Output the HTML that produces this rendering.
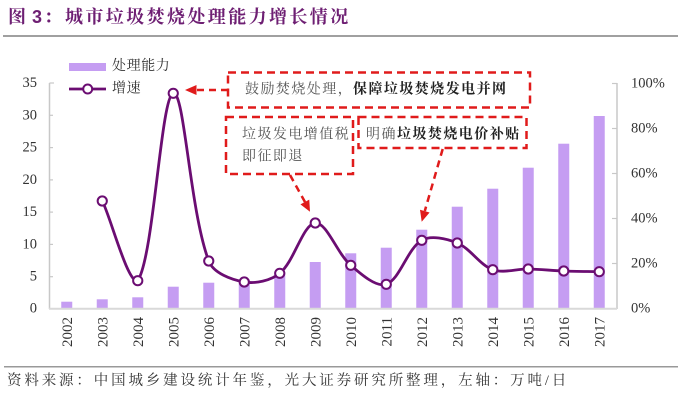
<!DOCTYPE html>
<html><head><meta charset="utf-8"><style>
html,body{margin:0;padding:0;background:#fff;}
svg{display:block;}
.cn{font-family:"Liberation Serif","Noto Serif CJK SC",serif;}
.num{font-family:"Liberation Serif",serif;}
</style></head><body>
<svg width="680" height="401" viewBox="0 0 680 401" xmlns="http://www.w3.org/2000/svg">
<rect width="680" height="401" fill="#fff"/>
<!-- title -->
<text x="8" y="17" dominant-baseline="central" class="cn" font-size="18" font-weight="bold" fill="#6e1f73">图</text>
<text x="32" y="17" dominant-baseline="central" font-family="Liberation Sans, sans-serif" font-size="18" font-weight="bold" fill="#6e1f73">3</text>
<text x="44" y="17" dominant-baseline="central" class="cn" font-size="18" font-weight="bold" fill="#6e1f73">：</text>
<text x="65" y="17" dominant-baseline="central" class="cn" font-size="18" font-weight="bold" fill="#6e1f73" letter-spacing="2.4">城市垃圾焚烧处理能力增长情况</text>
<line x1="3" y1="36" x2="678" y2="36" stroke="#808080" stroke-width="1.5"/>

<!-- axes -->
<line x1="49.5" y1="83" x2="49.5" y2="309" stroke="#c8c8c8" stroke-width="1.5"/>
<g stroke="#c8c8c8" stroke-width="1.2">
<line x1="49.5" y1="83" x2="54" y2="83"/>
<line x1="49.5" y1="115.3" x2="53" y2="115.3"/>
<line x1="49.5" y1="147.6" x2="53" y2="147.6"/>
<line x1="49.5" y1="179.9" x2="53" y2="179.9"/>
<line x1="49.5" y1="212.1" x2="53" y2="212.1"/>
<line x1="49.5" y1="244.4" x2="53" y2="244.4"/>
<line x1="49.5" y1="276.7" x2="53" y2="276.7"/>
</g>
<line x1="617" y1="83" x2="617" y2="309" stroke="#c8c8c8" stroke-width="1.5"/>
<g stroke="#c8c8c8" stroke-width="1.2">
<line x1="612" y1="83.5" x2="617" y2="83.5"/>
<line x1="612" y1="128.5" x2="617" y2="128.5"/>
<line x1="612" y1="173.5" x2="617" y2="173.5"/>
<line x1="612" y1="218.5" x2="617" y2="218.5"/>
<line x1="612" y1="263.5" x2="617" y2="263.5"/>
</g>

<!-- left labels -->
<g class="num" font-size="14.5" fill="#333" text-anchor="end" dominant-baseline="central">
<text x="37" y="83">35</text>
<text x="37" y="115.3">30</text>
<text x="37" y="147.6">25</text>
<text x="37" y="179.9">20</text>
<text x="37" y="212.1">15</text>
<text x="37" y="244.4">10</text>
<text x="37" y="276.7">5</text>
<text x="37" y="308.5">0</text>
</g>
<!-- right labels -->
<g class="num" font-size="14.5" fill="#333" dominant-baseline="central">
<text x="631" y="83.5">100%</text>
<text x="631" y="128.5">80%</text>
<text x="631" y="173.5">60%</text>
<text x="631" y="218.5">40%</text>
<text x="631" y="263.5">20%</text>
<text x="631" y="308.5">0%</text>
</g>

<!-- bars -->
<g fill="#c59df2">
<rect x="61.25" y="301.7" width="11" height="6.8"/>
<rect x="96.75" y="299.3" width="11" height="9.2"/>
<rect x="132.25" y="297.3" width="11" height="11.2"/>
<rect x="167.75" y="286.7" width="11" height="21.8"/>
<rect x="203.25" y="282.7" width="11" height="25.8"/>
<rect x="238.75" y="279.5" width="11" height="29"/>
<rect x="274.25" y="272" width="11" height="36.5"/>
<rect x="309.75" y="262" width="11" height="46.5"/>
<rect x="345.25" y="253.3" width="11" height="55.2"/>
<rect x="380.75" y="247.7" width="11" height="60.8"/>
<rect x="416.25" y="229.7" width="11" height="78.8"/>
<rect x="451.75" y="206.7" width="11" height="101.8"/>
<rect x="487.25" y="188.7" width="11" height="119.8"/>
<rect x="522.75" y="167.7" width="11" height="140.8"/>
<rect x="558.25" y="143.7" width="11" height="164.8"/>
<rect x="593.75" y="116" width="11" height="192.5"/>
</g>
<line x1="49" y1="308.8" x2="617" y2="308.8" stroke="#d9d9d9" stroke-width="2"/>

<!-- year labels -->
<g class="num" font-size="15" fill="#333" text-anchor="end">
<text transform="translate(71.75,317) rotate(-90)">2002</text>
<text transform="translate(107.25,317) rotate(-90)">2003</text>
<text transform="translate(142.75,317) rotate(-90)">2004</text>
<text transform="translate(178.25,317) rotate(-90)">2005</text>
<text transform="translate(213.75,317) rotate(-90)">2006</text>
<text transform="translate(249.25,317) rotate(-90)">2007</text>
<text transform="translate(284.75,317) rotate(-90)">2008</text>
<text transform="translate(320.25,317) rotate(-90)">2009</text>
<text transform="translate(355.75,317) rotate(-90)">2010</text>
<text transform="translate(391.25,317) rotate(-90)">2011</text>
<text transform="translate(426.75,317) rotate(-90)">2012</text>
<text transform="translate(462.25,317) rotate(-90)">2013</text>
<text transform="translate(497.75,317) rotate(-90)">2014</text>
<text transform="translate(533.25,317) rotate(-90)">2015</text>
<text transform="translate(568.75,317) rotate(-90)">2016</text>
<text transform="translate(604.25,317) rotate(-90)">2017</text>
</g>

<!-- growth line -->
<path fill="none" stroke="#6b0d72" stroke-width="2.8" stroke-linejoin="round" d="M102.25,201 C110,215 128,285 137.75,280.7 C153.99,256.07 160.79,96.76 173.25,93.3 C184.45,90.19 189.67,210.30 208.75,261 C213.34,273.20 231.70,279.83 244.25,282 C255.37,283.93 270.93,280.63 279.75,273.3 C294.60,260.96 302.77,224.41 315.25,223 C326.44,221.74 337.06,253.48 350.75,265.3 C360.73,273.92 376.41,287.77 386.25,284.3 C400.07,279.43 407.23,248.75 421.75,240.3 C430.89,234.98 446.72,238.64 457.25,243 C470.39,248.44 479.60,264.88 492.75,269.7 C503.27,273.55 516.42,268.78 528.25,269 C540.08,269.22 551.92,270.55 563.75,271 C575.58,271.45 587.42,271.47 599.25,271.7"/>
<g fill="#fff" stroke="#6b0d72" stroke-width="2">
<circle cx="102.25" cy="201" r="4.6"/>
<circle cx="137.75" cy="280.7" r="4.6"/>
<circle cx="173.25" cy="93.3" r="4.6"/>
<circle cx="208.75" cy="261" r="4.6"/>
<circle cx="244.25" cy="282" r="4.6"/>
<circle cx="279.75" cy="273.3" r="4.6"/>
<circle cx="315.25" cy="223" r="4.6"/>
<circle cx="350.75" cy="265.3" r="4.6"/>
<circle cx="386.25" cy="284.3" r="4.6"/>
<circle cx="421.75" cy="240.3" r="4.6"/>
<circle cx="457.25" cy="243" r="4.6"/>
<circle cx="492.75" cy="269.7" r="4.6"/>
<circle cx="528.25" cy="269" r="4.6"/>
<circle cx="563.75" cy="271" r="4.6"/>
<circle cx="599.25" cy="271.7" r="4.6"/>
</g>

<!-- legend -->
<rect x="69" y="63" width="37" height="8" fill="#c59df2"/>
<text x="112" y="66.7" dominant-baseline="central" class="cn" font-size="14" fill="#333" letter-spacing="0.6">处理能力</text>
<line x1="69" y1="89" x2="106" y2="89" stroke="#6b0d72" stroke-width="2.8"/>
<circle cx="87.7" cy="89" r="4.5" fill="#fff" stroke="#6b0d72" stroke-width="2"/>
<text x="112" y="89" dominant-baseline="central" class="cn" font-size="14" fill="#333" letter-spacing="0.6">增速</text>

<!-- annotation boxes -->
<g fill="none" stroke="#e01b1b" stroke-width="2.5" stroke-dasharray="8 5">
<rect x="228" y="72.5" width="302" height="35"/>
<rect x="226" y="117" width="127" height="57"/>
<rect x="358.5" y="117" width="168" height="31"/>
<line x1="228" y1="90" x2="196" y2="90" stroke-dasharray="7 5"/>
<line x1="290" y1="175" x2="305" y2="202" stroke-dasharray="7 5"/>
<line x1="442.7" y1="149" x2="424.8" y2="211" stroke-dasharray="7 5"/>
</g>
<g fill="#e01b1b">
<polygon points="185,90 196.5,85 196.5,95"/>
<polygon points="310,211.7 309.26,199.66 300.44,204.34"/>
<polygon points="421.7,221.7 429.59,212.55 419.99,209.74"/>
</g>
<g class="cn" font-size="14" dominant-baseline="central" letter-spacing="1.45">
<text x="245" y="90" fill="#555">鼓励焚烧处理，</text>
<text x="353" y="90" fill="#222" font-weight="bold">保障垃圾焚烧发电并网</text>
<text x="242" y="135" fill="#555">垃圾发电增值税</text>
<text x="242" y="157" fill="#555">即征即退</text>
<text x="366" y="135" fill="#555">明确</text>
<text x="397" y="135" fill="#222" font-weight="bold">垃圾焚烧电价补贴</text>
</g>

<!-- source -->
<line x1="4" y1="366.7" x2="678" y2="366.7" stroke="#999" stroke-width="1.5"/>
<text x="7" y="381" dominant-baseline="central" class="cn" font-size="14.5" fill="#333" letter-spacing="2.85">资料来源：中国城乡建设统计年鉴，光大证券研究所整理，左轴：万吨/日</text>
</svg>
</body></html>
